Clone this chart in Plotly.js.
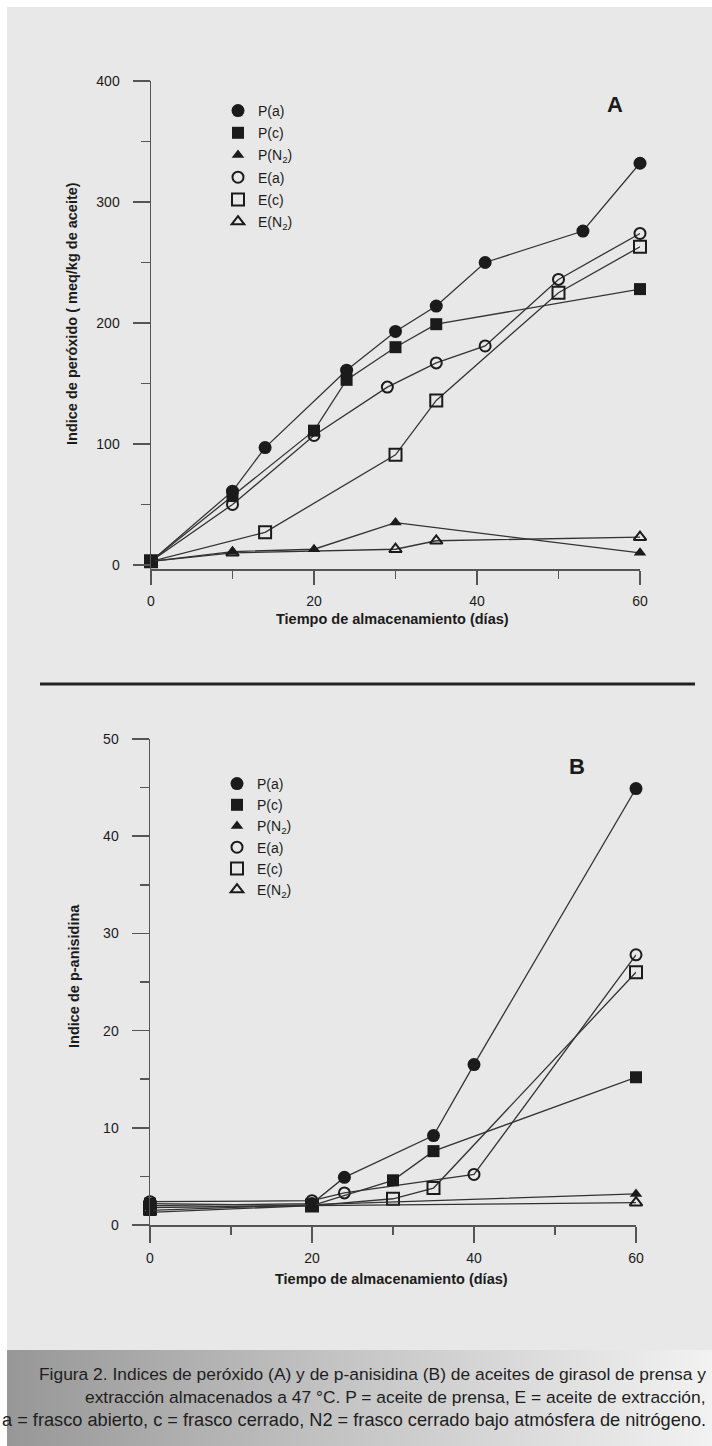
<!DOCTYPE html>
<html>
<head>
<meta charset="utf-8">
<script src="https://cdn.plot.ly/plotly-3.0.1.min.js"></script>
<style>
  html, body { margin:0; padding:0; background:#ffffff; }
  #bg { position:absolute; left:7px; top:7px; width:705px; height:1439px; background:#e8e8e8; }
  #cap { position:absolute; left:7px; top:1350px; width:705px; height:96px;
         background:linear-gradient(to right, #979797 0%, #c2c2c2 45%, #f2f2f2 100%); }
  #plot { position:absolute; left:0; top:0; width:712px; height:1446px; }
</style>
</head>
<body>
<div id="bg"></div>
<div id="cap"></div>
<div id="plot"></div>
<script>
// ---------- Data: Panel A (peroxide index, meq/kg) ----------
const seriesNames = ["P(a)", "P(c)", "P(N<sub>2</sub>)", "E(a)", "E(c)", "E(N<sub>2</sub>)"];

const A_Pa_days = [0, 10, 14, 24, 30, 35, 41, 53, 60];
const A_Pa_vals = [3, 61, 97, 161, 193, 214, 250, 276, 332];
const A_Pc_days = [0, 10, 20, 24, 30, 35, 60];
const A_Pc_vals = [3, 57, 111, 153, 180, 199, 228];
const A_PN_days = [0, 10, 20, 30, 60];
const A_PN_vals = [3, 11, 13, 35, 10];
const A_Ea_days = [0, 10, 20, 29, 35, 41, 50, 60];
const A_Ea_vals = [3, 50, 107, 147, 167, 181, 236, 274];
const A_Ec_days = [0, 14, 30, 35, 50, 60];
const A_Ec_vals = [3, 27, 91, 136, 225, 263];
const A_EN_days = [0, 10, 30, 35, 60];
const A_EN_vals = [3, 10, 13, 20, 23];

// ---------- Data: Panel B (p-anisidine index) ----------
const B_Pa_days = [0, 20, 24, 35, 40, 60];
const B_Pa_vals = [2.0, 2.2, 4.9, 9.2, 16.5, 44.9];
const B_Pc_days = [0, 20, 30, 35, 60];
const B_Pc_vals = [2.2, 2.0, 4.6, 7.6, 15.2];
const B_PN_days = [0, 20, 60];
const B_PN_vals = [1.5, 2.1, 3.2];
const B_Ea_days = [0, 20, 24, 40, 60];
const B_Ea_vals = [2.4, 2.5, 3.3, 5.2, 27.8];
const B_Ec_days = [0, 20, 30, 35, 60];
const B_Ec_vals = [1.8, 2.0, 2.7, 3.8, 26.0];
const B_EN_days = [0, 20, 60];
const B_EN_vals = [1.3, 2.0, 2.3];

const xTicksMajor = [0, 20, 40, 60];
const yTitleA = "Indice de peróxido ( meq/kg de aceite)";
const yTitleB = "Indice de p-anisidina";
const xTitle = "Tiempo de almacenamiento (días)";
const captionLines = [
  "Figura 2. Indices de peróxido (A) y de p-anisidina (B) de aceites de girasol de prensa y",
  "extracción almacenados a 47 °C. P = aceite de prensa, E = aceite de extracción,",
  "a = frasco abierto, c = frasco cerrado, N2 = frasco cerrado bajo atmósfera de nitrógeno."
];

// ---------- Styling ----------
const W = 712, H = 1446;
const fx = p => p / W;
const fy = p => 1 - p / H;
const FONT = "'Liberation Sans', Arial, Helvetica, sans-serif";
const INK = "#1b1b1b";
const AX = "#555555";
const LINE = { color: "#333333", width: 1.3 };

const markerStyles = [
  { symbol: "circle", size: 13, color: INK },
  { symbol: "square", size: 12, color: INK },
  { symbol: "triangle-up", size: 11, color: INK },
  { symbol: "circle-open", size: 11, color: INK, line: { width: 2, color: INK } },
  { symbol: "square-open", size: 12, color: INK, line: { width: 2, color: INK } },
  { symbol: "triangle-up-open", size: 11, color: INK, line: { width: 2, color: INK } }
];

const seriesA = [
  [A_Pa_days, A_Pa_vals], [A_Pc_days, A_Pc_vals], [A_PN_days, A_PN_vals],
  [A_Ea_days, A_Ea_vals], [A_Ec_days, A_Ec_vals], [A_EN_days, A_EN_vals]
];
const seriesB = [
  [B_Pa_days, B_Pa_vals], [B_Pc_days, B_Pc_vals], [B_PN_days, B_PN_vals],
  [B_Ea_days, B_Ea_vals], [B_Ec_days, B_Ec_vals], [B_EN_days, B_EN_vals]
];

const drawOrder = [3, 4, 5, 0, 1, 2];
const traces = [];
function addPanel(series, xa, ya, leg) {
  drawOrder.forEach(i => {
    traces.push({
      type: "scatter", mode: "lines+markers",
      x: series[i][0], y: series[i][1], xaxis: xa, yaxis: ya,
      name: seriesNames[i], showlegend: false, cliponaxis: false,
      line: LINE, marker: markerStyles[i], hoverinfo: "skip"
    });
  });
  seriesNames.forEach((n, i) => {
    traces.push({
      type: "scatter", mode: "markers", x: [null], y: [null],
      xaxis: xa, yaxis: ya, name: n, legend: leg, legendgroup: leg + i,
      marker: markerStyles[i], showlegend: true, hoverinfo: "skip"
    });
  });
}
addPanel(seriesA, "x", "y", "legend");
addPanel(seriesB, "x2", "y2", "legend2");

function xAxis(d0, d1, anchor, len) {
  return {
    domain: [fx(d0), fx(d1)], range: [0, 60], anchor: anchor,
    tickvals: xTicksMajor, ticks: "outside", ticklen: len, tickwidth: 1.5, tickcolor: AX,
    minor: { dtick: 10, ticks: "outside", ticklen: 8, tickwidth: 1.5, tickcolor: AX },
    showline: true, linecolor: AX, linewidth: 1.5, showgrid: false, zeroline: false,
    tickfont: { family: FONT, size: 14, color: INK }, ticklabelstandoff: 4, fixedrange: true
  };
}
function yAxis(top, bottom, range, dtick, anchor) {
  return {
    domain: [fy(bottom), fy(top)], range: range, anchor: anchor,
    dtick: dtick, tick0: 0, ticks: "outside", ticklen: 17, tickwidth: 1.5, tickcolor: AX,
    minor: { dtick: dtick / 2, ticks: "outside", ticklen: 9, tickwidth: 1.5, tickcolor: AX },
    showline: true, linecolor: AX, linewidth: 1.5, showgrid: false, zeroline: false,
    tickfont: { family: FONT, size: 14, color: INK }, ticklabelstandoff: 10, fixedrange: true
  };
}

function ann(text, x, y, size, extra) {
  return Object.assign({
    text: text, xref: "paper", yref: "paper", x: fx(x), y: fy(y),
    xanchor: "center", yanchor: "middle", showarrow: false,
    font: { family: FONT, size: size, color: INK }
  }, extra || {});
}
const capFont = s => ({ family: FONT, size: s, color: "#1e1e1e" });

const layout = {
  width: W, height: H,
  margin: { l: 0, r: 0, t: 0, b: 0 },
  paper_bgcolor: "rgba(0,0,0,0)", plot_bgcolor: "rgba(0,0,0,0)",
  font: { family: FONT, color: INK },
  hovermode: false,
  xaxis: xAxis(151, 640, "y", 14),
  yaxis: yAxis(81, 569.2, [-3.5, 400], 100, "x"),
  xaxis2: xAxis(150, 636, "y2", 16),
  yaxis2: yAxis(739, 1225, [0, 50], 10, "x2"),
  legend: {
    x: fx(218), y: fy(95), xanchor: "left", yanchor: "top",
    bgcolor: "rgba(0,0,0,0)", borderwidth: 0, tracegroupgap: 1,
    font: { family: FONT, size: 14, color: INK }
  },
  legend2: {
    x: fx(217), y: fy(768), xanchor: "left", yanchor: "top",
    bgcolor: "rgba(0,0,0,0)", borderwidth: 0, tracegroupgap: 0,
    font: { family: FONT, size: 14, color: INK }
  },
  shapes: [
    { type: "line", xref: "paper", yref: "paper", x0: fx(40), x1: fx(695), y0: fy(684), y1: fy(684),
      line: { color: "#222222", width: 3 } }
  ],
  annotations: [
    ann("<b>A</b>", 615, 105, 22),
    ann("<b>B</b>", 577, 766, 22),
    ann("<b>" + xTitle + "</b>", 392, 619, 14.5),
    ann("<b>" + xTitle + "</b>", 391, 1279, 14.5),
    ann("<b>" + yTitleA + "</b>", 72, 314, 14.5, { textangle: -90 }),
    ann("<b>" + yTitleB + "</b>", 74, 976, 14.5, { textangle: -90 }),
    ann(captionLines[0], 708, 1374, 17.4, { xanchor: "right", font: capFont(17.4) }),
    ann(captionLines[1], 708, 1397, 17.4, { xanchor: "right", font: capFont(17.4) }),
    ann(captionLines[2], 708, 1420, 18.2, { xanchor: "right", font: capFont(18.2) })
  ]
};

Plotly.newPlot("plot", traces, layout, { displayModeBar: false, staticPlot: true });
</script>
</body>
</html>
